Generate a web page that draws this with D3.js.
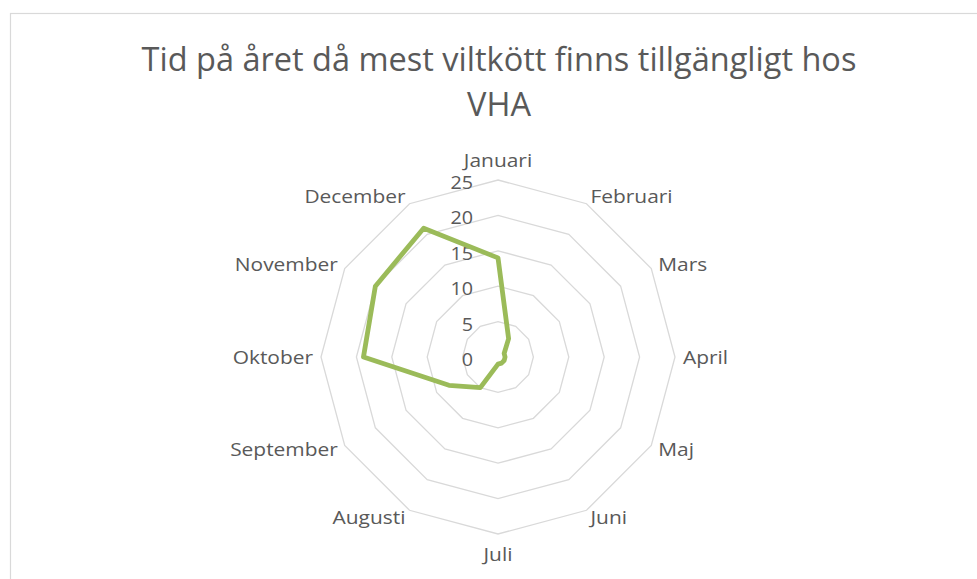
<!DOCTYPE html>
<html>
<head>
<meta charset="utf-8">
<script src="https://cdn.jsdelivr.net/npm/d3@7/dist/d3.min.js"></script>
<style>
  html, body { margin: 0; padding: 0; background: #ffffff; }
  svg { display: block; }
  text { font-family: "Open Sans", "Noto Sans", sans-serif; fill: #595959; }
</style>
</head>
<body>
<svg id="chart" width="977" height="579"></svg>
<script>
// ---- data ----
const titleLines = ["Tid på året då mest viltkött finns tillgängligt hos", "VHA"];
const months = ["Januari", "Februari", "Mars", "April", "Maj", "Juni",
                "Juli", "Augusti", "September", "Oktober", "November", "December"];
const values = [14, 3, 1, 1, 1, 1, 1, 5, 8, 19, 20, 21];
const tickValues = [0, 5, 10, 15, 20, 25];

// ---- layout ----
const W = 977, H = 579;
const cx = 498, cy = 357, R = 177;
const svg = d3.select("#chart");

svg.append("rect")
  .attr("x", 10.5).attr("y", 13.5)
  .attr("width", W + 10).attr("height", H + 10)
  .attr("fill", "#ffffff").attr("stroke", "#d9d9d9").attr("stroke-width", 1.2);

const rScale = d3.scaleLinear().domain([0, 25]).range([0, R]);
const aScale = d3.scaleLinear().domain([0, months.length]).range([0, 2 * Math.PI]);

const g = svg.append("g").attr("transform", `translate(${cx},${cy})`);

// grid polygons
const gridLine = d3.lineRadial()
  .angle((d, i) => aScale(i))
  .radius(d => rScale(d))
  .curve(d3.curveLinearClosed);

tickValues.filter(t => t > 0).forEach(t => {
  g.append("path")
    .attr("d", gridLine(months.map(() => t)))
    .attr("fill", "none")
    .attr("stroke", "#d9d9d9")
    .attr("stroke-width", 1.3);
});

// helper: horizontally scaled text
function scaledText(parent, str, x, y, size, sx, anchor) {
  return parent.append("text")
    .attr("transform", `translate(${x},${y}) scale(${sx},1)`)
    .attr("text-anchor", anchor)
    .attr("font-size", size)
    .text(str);
}
function measure(str, size) {
  const t = svg.append("text").attr("font-size", size).text(str);
  const w = t.node().getComputedTextLength();
  t.remove();
  return w;
}

// tick labels
const tickSize = 18.5;
const tickSx = 22.6 / measure("25", tickSize);
tickValues.forEach(t => {
  scaledText(g, String(t), -25, -rScale(t) + 9, tickSize, tickSx, "end");
});

// data line
const dataLine = d3.lineRadial()
  .angle((d, i) => aScale(i))
  .radius(d => rScale(d))
  .curve(d3.curveLinearClosed);

g.append("path")
  .attr("d", dataLine(values))
  .attr("fill", "none")
  .attr("stroke", "#9bbb59")
  .attr("stroke-width", 4.8)
  .attr("stroke-linejoin", "round");

// category labels
const labSize = 18;
const labSx = 68.4 / measure("Januari", labSize);
months.forEach((m, i) => {
  const a = aScale(i);
  const s = Math.sin(a), c = Math.cos(a);
  const rr = R + 8;
  const x = rr * s;
  let yc = -rr * c;
  let anchor = "middle";
  if (s > 0.01) anchor = "start";
  else if (s < -0.01) anchor = "end";
  else yc += (c > 0 ? -12 : 12);
  scaledText(g, m, x, yc + 6.5, labSize, labSx, anchor);
});

// title
const titleSize = 32;
const titleSx = 715 / measure(titleLines[0], titleSize);
titleLines.forEach((l, i) => {
  scaledText(svg, l, 499, 71 + i * 45, titleSize, titleSx, "middle");
});
</script>
</body>
</html>
